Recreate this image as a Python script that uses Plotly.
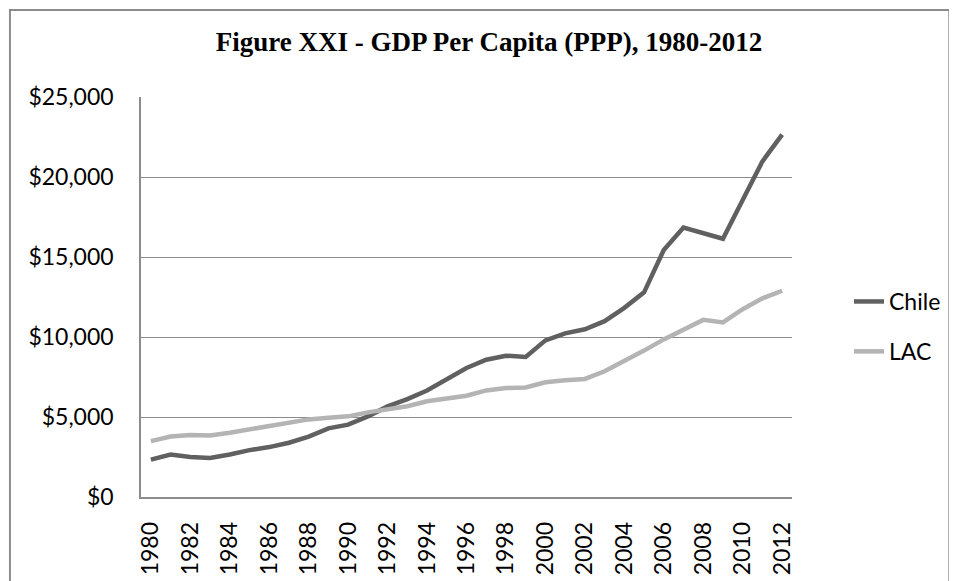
import plotly.graph_objects as go

years = list(range(1980, 2013))
chile = [2340, 2650, 2500, 2440, 2660, 2930, 3120, 3390, 3770, 4290,
         4520, 5040, 5660, 6120, 6660, 7390, 8060, 8580, 8830, 8750,
         9790, 10230, 10480, 10990, 11820, 12790, 15440, 16840, 16470, 16140,
         18560, 20980, 22650]
lac = [3490, 3780, 3880, 3850, 4020, 4230, 4430, 4640, 4850, 4960,
       5040, 5290, 5460, 5670, 5980, 6120, 6330, 6660, 6810, 6850,
       7170, 7300, 7380, 7860, 8480, 9150, 9850, 10490, 11070, 10910,
       11740, 12420, 12890]
y_ticks = [0, 5000, 10000, 15000, 20000, 25000]
x_ticks = list(range(1980, 2013, 2))

FONT = "Lato, 'Open Sans', sans-serif"
OFF = 8  # default page body margin

fig = go.Figure()
fig.add_trace(go.Scatter(x=years, y=chile, name="Chile", mode="lines",
                         line=dict(color="#606060", width=4.5),
                         legendgroup="a"))
fig.add_trace(go.Scatter(x=years, y=lac, name="LAC", mode="lines",
                         line=dict(color="#b4b4b4", width=4.5),
                         legendgroup="b"))

W, H = 957 - OFF, 581 - OFF
# plot area in page px: x 140.7..792.5, y 97..497.3
L = 140.7 - OFF
R = W - (792.5 - OFF)
T = 97 - OFF
B = H - (497.3 - OFF)
pw, ph = W - L - R, H - T - B
def px_x(x):
    return (x - OFF - L) / pw
def px_y(y):
    return (H - B - (y - OFF)) / ph

fig.add_shape(type="rect", xref="paper", yref="paper",
              x0=px_x(9.5), x1=px_x(950), y0=px_y(620), y1=px_y(10),
              line=dict(color="#8c8c8c", width=2), layer="below")

fig.update_layout(
    width=W, height=H,
    margin=dict(l=L, r=R, t=T, b=B, pad=0, autoexpand=False),
    paper_bgcolor="white", plot_bgcolor="white",
    font=dict(family=FONT, size=23, color="#000000"),
    title=dict(text="<b>Figure XXI - GDP Per Capita (PPP), 1980-2012</b>",
               font=dict(family="'Liberation Serif', 'Times New Roman', serif", size=27, color="#000"),
               x=(489 - OFF) / W, xanchor="center", xref="container",
               y=1 - (42 - OFF) / H, yanchor="middle", yref="container",
               automargin=False),
    showlegend=True,
    legend=dict(x=(849 - OFF) / W, xanchor="left", xref="container",
                y=1 - (280 - OFF) / H, yanchor="top", yref="container",
                font=dict(family=FONT, size=23, color="#000"),
                tracegroupgap=17, traceorder="grouped",
                bgcolor="rgba(0,0,0,0)", borderwidth=0),
    xaxis=dict(range=[1979.5, 2012.5], tickmode="array", tickvals=x_ticks,
               ticktext=[str(v) for v in x_ticks], tickangle=-90,
               showgrid=False, zeroline=False, showline=True,
               linecolor="#8c8c8c", linewidth=1.5, ticks="",
               ticklabelstandoff=14, automargin=False,
               tickfont=dict(family=FONT, size=23, color="#000")),
    yaxis=dict(range=[0, 25000], tickmode="array", tickvals=y_ticks,
               ticktext=["${:,}".format(v) for v in y_ticks],
               showgrid=True, gridcolor="#8a8a8a", gridwidth=1.3,
               zeroline=False, showline=True, linecolor="#8c8c8c",
               linewidth=1.5, ticks="", ticklabelstandoff=21, automargin=False,
               tickfont=dict(family=FONT, size=23, color="#000")),
)

fig.write_html("out.html")
